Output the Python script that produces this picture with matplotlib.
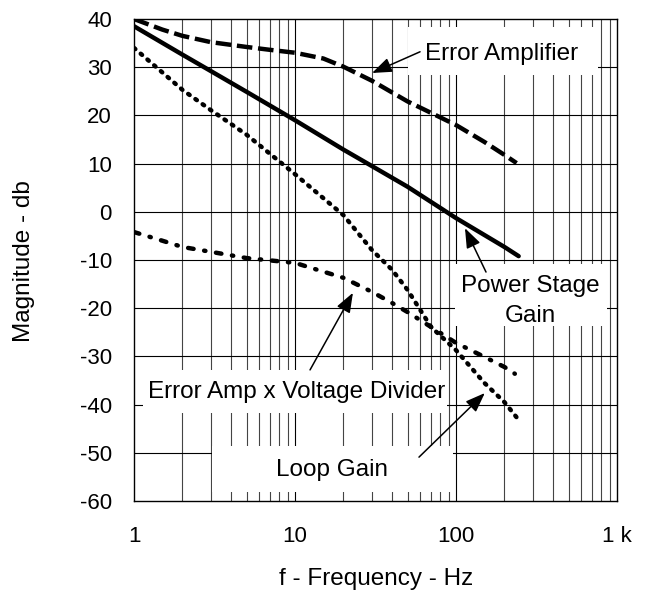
import numpy as np
import matplotlib
matplotlib.use("Agg")
import matplotlib.pyplot as plt
from matplotlib.patches import Rectangle
from matplotlib.ticker import FixedLocator, FixedFormatter

plt.rcParams['font.family'] = ['Liberation Sans', 'DejaVu Sans']

# Bode magnitude curves, read in Hz / dB
f_power = [1, 2, 3, 5, 10, 20, 30, 50, 100, 200, 245]
db_power = [38.5, 32.6, 29.2, 24.9, 19.0, 12.9, 9.5, 5.2, -1.3, -7.3, -9.2]

f_erramp = [1, 1.5, 2, 3, 5, 7, 10, 15, 20, 30, 50, 100, 150, 200, 238]
db_erramp = [40, 37.8, 36.5, 35.2, 34.2, 33.6, 33.0, 31.8, 30.1, 27.2, 22.9, 18.0, 14.5, 11.8, 10.1]

f_divider = [1, 1.5, 2, 3, 5, 10, 20, 30, 40, 50, 70, 100, 150, 200, 232]
db_divider = [-4.2, -6.0, -7.3, -8.3, -9.6, -10.6, -13.7, -16.6, -18.9, -20.8, -23.9, -27.2, -30.1, -32.2, -33.6]

f_loop = [1, 2, 3, 5, 10, 20, 30, 40, 50, 70, 100, 150, 200, 240]
db_loop = [34.0, 25.3, 21.1, 16.0, 7.8, -0.7, -7.9, -12.0, -16.2, -23.9, -28.7, -35.5, -39.5, -42.8]

x_ticks = [1, 10, 100, 1000]
x_tick_labels = ['1', '10', '100', '1 k']
y_ticks = list(range(-60, 41, 10))

fig = plt.figure(figsize=(6.48, 5.93), dpi=100)
ax = fig.add_axes([134 / 648, 1 - 501 / 593, 483 / 648, 482 / 593])
ax.set_xscale('log')
ax.set_xlim(1, 1000)
ax.set_ylim(-60, 40)

# grid: decades, minor 2..9, every 10 dB
ax.set_axisbelow(True)
for dec in [1, 10, 100]:
    for m in range(2, 10):
        ax.axvline(dec * m, color='#444444', lw=0.8, zorder=0.5)
for v in [10, 100]:
    ax.axvline(v, color='black', lw=0.8, zorder=0.5)
for y in y_ticks[1:-1]:
    ax.axhline(y, color='black', lw=0.8, zorder=0.5)

ax.xaxis.set_major_locator(FixedLocator(x_ticks))
ax.xaxis.set_major_formatter(FixedFormatter(x_tick_labels))
ax.xaxis.set_minor_locator(FixedLocator([]))
ax.set_yticks(y_ticks)
ax.set_yticklabels([str(v) for v in y_ticks])
ax.tick_params(axis='x', length=0, pad=18, labelsize=16)
ax.tick_params(axis='y', length=0, pad=16, labelsize=16)
for s in ax.spines.values():
    s.set_linewidth(1.0)
    s.set_color('black')

# white label boxes that blank out the grid
boxes = [
    (50.3, 28.4, 762, 38.3),
    (98.6, -23.7, 867, -10.8),
    (1.137, -41.7, 87.9, -32.8),
    (3.05, -58.1, 95.8, -48.6),
]
for x0, y0, x1, y1 in boxes:
    ax.add_patch(Rectangle((x0, y0), x1 - x0, y1 - y0, facecolor='white',
                           edgecolor='none', zorder=1))

lw = 3.2
ax.plot(f_power, db_power, color='black', lw=lw, solid_capstyle='round', zorder=3)
ax.plot(f_erramp, db_erramp, color='black', lw=lw, linestyle=(0, (3.5, 1.3)), zorder=3)
ax.plot(f_divider, db_divider, color='black', lw=lw,
        linestyle=(0, (1.25, 2.4, 0.3, 2.4)), dash_capstyle='round', zorder=3)
ax.plot(f_loop, db_loop, color='black', lw=lw, linestyle=(0, (0.4, 1.6)),
        dash_capstyle='round', zorder=3)

fs = 17.5
ax.text(193, 31.5, 'Error Amplifier', ha='center', va='baseline', fontsize=fs, zorder=4)
ax.text(288, -16.6, 'Power Stage', ha='center', va='baseline', fontsize=fs, zorder=4)
ax.text(288, -22.9, 'Gain', ha='center', va='baseline', fontsize=fs, zorder=4)
ax.text(10.2, -38.6, 'Error Amp x Voltage Divider', ha='center', va='baseline', fontsize=fs, zorder=4)
ax.text(17.0, -54.8, 'Loop Gain', ha='center', va='baseline', fontsize=fs, zorder=4)

arrow = dict(arrowstyle='-|>,head_length=0.8,head_width=0.3', mutation_scale=15,
             lw=1.1, color='black', shrinkA=0, shrinkB=0)
ax.annotate('', xy=(30.1, 28.8), xytext=(59.8, 33.2), arrowprops=arrow, zorder=4)
ax.annotate('', xy=(113.7, -3.4), xytext=(153.6, -12.5), arrowprops=arrow, zorder=4)
ax.annotate('', xy=(22.9, -16.8), xytext=(12.4, -32.8), arrowprops=arrow, zorder=4)
ax.annotate('', xy=(151, -37.6), xytext=(58.9, -50.9), arrowprops=arrow, zorder=4)

fig.text(24 / 648, 1 - 261 / 593, 'Magnitude - db', rotation=90, ha='center',
         va='center', fontsize=fs)
fig.text(376 / 648, 1 - 579 / 593, 'f - Frequency - Hz', ha='center', va='center',
         fontsize=fs)

fig.savefig('out.png', dpi=100)
